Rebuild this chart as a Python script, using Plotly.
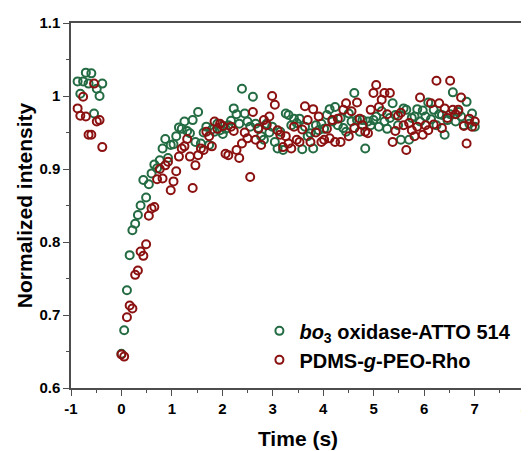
import plotly.graph_objects as go

# FRAP recovery: time axis (s), bleach at t = 0
time_s = [
    -0.869, -0.815, -0.760, -0.706, -0.652, -0.597, -0.543, -0.489, -0.434, -0.380,
    0.000, 0.054, 0.109, 0.163, 0.217, 0.272, 0.326, 0.380, 0.434, 0.489,
    0.543, 0.597, 0.652, 0.706, 0.760, 0.815, 0.869, 0.923, 0.977, 1.032,
    1.086, 1.140, 1.195, 1.249, 1.303, 1.358, 1.412, 1.466, 1.520, 1.575,
    1.629, 1.683, 1.738, 1.792, 1.846, 1.901, 1.955, 2.009, 2.063, 2.118,
    2.172, 2.226, 2.281, 2.335, 2.389, 2.444, 2.498, 2.552, 2.606, 2.661,
    2.715, 2.769, 2.824, 2.878, 2.932, 2.987, 3.041, 3.095, 3.149, 3.204,
    3.258, 3.312, 3.367, 3.421, 3.475, 3.530, 3.584, 3.638, 3.692, 3.747,
    3.801, 3.855, 3.910, 3.964, 4.018, 4.073, 4.127, 4.181, 4.235, 4.290,
    4.344, 4.398, 4.453, 4.507, 4.561, 4.616, 4.670, 4.724, 4.778, 4.833,
    4.887, 4.941, 4.996, 5.050, 5.104, 5.159, 5.213, 5.267, 5.321, 5.376,
    5.430, 5.484, 5.539, 5.593, 5.647, 5.702, 5.756, 5.810, 5.864, 5.919,
    5.973, 6.027, 6.082, 6.136, 6.190, 6.245, 6.299, 6.353, 6.407, 6.462,
    6.516, 6.570, 6.625, 6.679, 6.733, 6.788, 6.842, 6.896, 6.950, 7.005,
]

# bo3 oxidase-ATTO 514
bo3_atto514 = [
    1.020, 1.003, 1.020, 1.032, 1.017, 1.031, 0.976, 1.010, 1.000, 1.017,
    0.647, 0.679, 0.734, 0.782, 0.816, 0.825, 0.837, 0.850, 0.885, 0.861,
    0.879, 0.894, 0.906, 0.901, 0.912, 0.928, 0.941, 0.915, 0.933, 0.934,
    0.945, 0.957, 0.955, 0.965, 0.952, 0.949, 0.967, 0.937, 0.978, 0.935,
    0.950, 0.958, 0.933, 0.954, 0.951, 0.962, 0.953, 0.948, 0.955, 0.960,
    0.966, 0.983, 0.975, 0.962, 1.010, 0.976, 0.965, 0.958, 0.999, 0.962,
    0.956, 0.945, 0.940, 0.962, 0.950, 0.958, 0.937, 0.928, 0.951, 0.926,
    0.976, 0.974, 0.960, 0.969, 0.963, 0.969, 0.927, 0.958, 0.945, 0.949,
    0.928, 0.960, 0.953, 0.962, 0.955, 0.974, 0.982, 0.965, 0.985, 0.960,
    0.970, 0.956, 0.951, 0.976, 0.965, 1.004, 0.967, 0.951, 0.967, 0.928,
    0.965, 0.960, 0.967, 0.972, 0.958, 0.979, 0.965, 0.955, 0.970, 0.990,
    0.974, 0.960, 0.940, 0.983, 0.981, 0.940, 0.970, 0.972, 0.982, 0.965,
    0.980, 0.972, 0.991, 0.968, 0.981, 0.960, 0.975, 0.974, 0.947, 0.967,
    0.975, 1.005, 0.965, 0.978, 0.972, 0.960, 0.992, 0.962, 0.976, 0.958,
]

# PDMS-g-PEO-Rho
pdms_peo_rho = [
    0.983, 0.973, 0.999, 0.972, 0.947, 0.947, 1.017, 0.965, 0.967, 0.930,
    0.646, 0.643, 0.697, 0.713, 0.709, 0.755, 0.761, 0.787, 0.781, 0.797,
    0.836, 0.846, 0.848, 0.886, 0.900, 0.887, 0.905, 0.910, 0.871, 0.883,
    0.897, 0.917, 0.928, 0.931, 0.941, 0.917, 0.874, 0.905, 0.919, 0.928,
    0.926, 0.951, 0.945, 0.931, 0.965, 0.955, 0.962, 0.959, 0.921, 0.919,
    0.958, 0.952, 0.926, 0.915, 0.935, 0.950, 0.942, 0.889, 0.978, 0.940,
    0.955, 0.933, 0.967, 0.960, 0.972, 1.000, 0.988, 0.953, 0.947, 0.930,
    0.945, 0.935, 0.928, 0.958, 0.940, 0.937, 0.954, 0.986, 0.967, 0.937,
    0.982, 0.950, 0.972, 0.937, 0.940, 0.955, 0.942, 0.967, 0.937, 0.969,
    0.937, 0.981, 0.990, 0.945, 0.979, 0.956, 0.991, 0.969, 0.960, 0.951,
    0.949, 0.981, 1.004, 1.015, 0.985, 0.995, 1.004, 0.975, 1.004, 0.937,
    0.952, 0.973, 0.977, 0.960, 0.926, 0.963, 0.953, 0.945, 0.958, 0.998,
    0.947, 0.960, 0.953, 0.990, 0.961, 1.021, 0.990, 0.956, 0.983, 0.970,
    1.021, 0.981, 0.975, 0.981, 0.998, 0.959, 0.935, 0.969, 0.958, 0.965,
]

x_tickvals = [-1, 0, 1, 2, 3, 4, 5, 6, 7, 8]
x_ticktext = ["-1", "0", "1", "2", "3", "4", "5", "6", "7", "8"]

font_family = "Liberation Sans, Arial, sans-serif"
axis_color = "#4d4d4d"

fig = go.Figure()
fig.add_trace(go.Scatter(x=time_s, y=bo3_atto514, mode='markers',
                         name='<b><i>bo</i><sub>3</sub> oxidase-ATTO 514</b>',
                         marker=dict(symbol='circle-open', size=8, color='#236b42',
                                     line=dict(width=2, color='#236b42'))))
fig.add_trace(go.Scatter(x=time_s, y=pdms_peo_rho, mode='markers',
                         name='<b>PDMS-<i>g</i>-PEO-Rho</b>',
                         marker=dict(symbol='circle-open', size=8, color='#8b1111',
                                     line=dict(width=2, color='#8b1111'))))

axis_common = dict(showline=True, linecolor=axis_color, linewidth=1.5, mirror=True,
                   showgrid=False, zeroline=False, ticks='outside', ticklen=6,
                   tickwidth=1.3, tickcolor=axis_color, automargin=False,
                   ticklabeloverflow='allow',
                   tickfont=dict(family=font_family, size=15, color='black', weight='bold'))

# page body has an 8px margin; margins are shifted so the plot lands where the reference has it
fig.update_layout(
    width=529, height=443,
    margin=dict(l=63, r=12, t=15, b=63),
    paper_bgcolor='white', plot_bgcolor='white',
    font=dict(family=font_family, color='black'),
    showlegend=True,
    legend=dict(x=0.415, y=0.21, xanchor='left', yanchor='top',
                bgcolor='rgba(0,0,0,0)',
                font=dict(family=font_family, size=20, color='black')),
    xaxis=dict(range=[-1, 8], tickmode='array', tickvals=x_tickvals, ticktext=x_ticktext,
               minor=dict(ticks='outside', ticklen=3, tickwidth=1.2, tickcolor=axis_color,
                          tick0=-1, dtick=0.5),
               title=dict(text='<b>Time (s)</b>', font=dict(family=font_family, size=21),
                          standoff=16),
               **axis_common),
    yaxis=dict(range=[0.6, 1.1], tick0=0.6, dtick=0.1,
               minor=dict(ticks='outside', ticklen=3, tickwidth=1.2, tickcolor=axis_color,
                          tick0=0.6, dtick=0.05),
               title=dict(text='<b>Normalized intensity</b>', font=dict(family=font_family, size=21),
                          standoff=1),
               **axis_common),
)

fig.write_html("out.html")
